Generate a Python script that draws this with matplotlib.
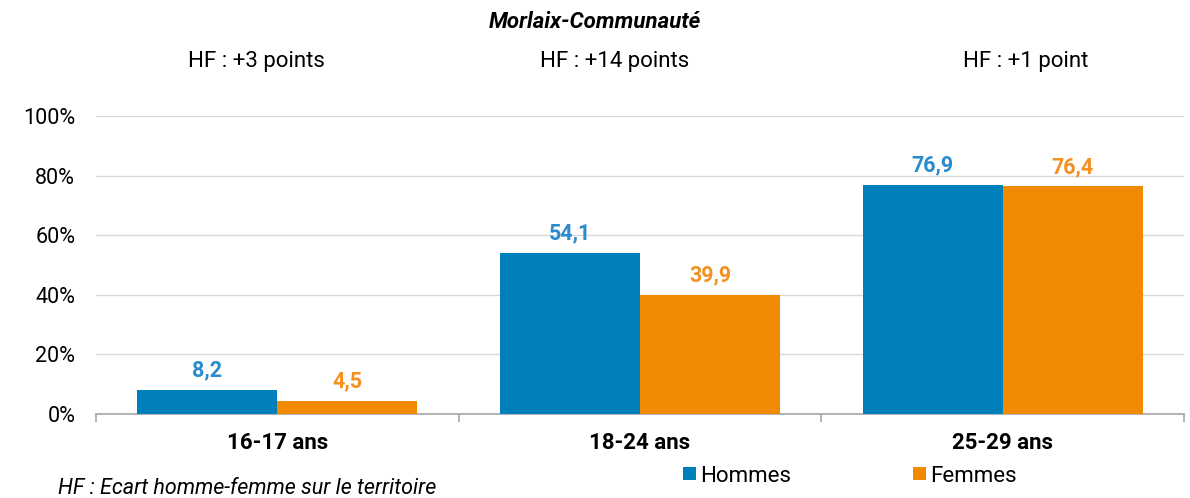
import numpy as np
import matplotlib.pyplot as plt

plt.rcParams['font.family'] = ['Roboto', 'DejaVu Sans']

categories = ['16-17 ans', '18-24 ans', '25-29 ans']
hommes = [8.2, 54.1, 76.9]
femmes = [4.5, 39.9, 76.4]
ecarts = ['HF : +3 points', 'HF : +14 points', 'HF : +1 point']

blue = '#0080BA'
orange = '#F08A00'

fig = plt.figure(figsize=(11.9, 4.98), dpi=100)
ax = fig.add_axes([0.0807, 0.1687, 0.9143, 0.5984])

x = np.arange(len(categories))
w = 0.386
b1 = ax.bar(x - w / 2, hommes, w, color=blue, zorder=3)
b2 = ax.bar(x + w / 2, femmes, w, color=orange, zorder=3)

for xi, v in zip(x, hommes):
    ax.annotate(f'{v:.1f}'.replace('.', ','), (xi - w / 2, v), xytext=(0, 6),
                textcoords='offset points', ha='center', va='bottom',
                color='#2a8ccc', fontsize=15.5, fontweight='bold')
for xi, v in zip(x, femmes):
    ax.annotate(f'{v:.1f}'.replace('.', ','), (xi + w / 2, v), xytext=(0, 6),
                textcoords='offset points', ha='center', va='bottom',
                color='#f39121', fontsize=15.5, fontweight='bold')

ax.set_xlim(-0.5, 2.5)
ax.set_ylim(0, 100)
ax.set_yticks(np.arange(0, 101, 20))
ax.set_yticklabels([f'{t}%' for t in range(0, 101, 20)], fontsize=15.5)
ax.grid(axis='y', color='#d9d9d9', linewidth=1, zorder=0)
ax.tick_params(axis='y', length=0, pad=15)

ax.set_xticks([-0.5, 0.5, 1.5, 2.5])
ax.set_xticklabels([])
ax.tick_params(axis='x', length=6, color='#a6a6a6', width=1.2, direction='out')
ax.set_xticks(x, minor=True)
ax.set_xticklabels(categories, minor=True, fontsize=16, fontweight='bold')
ax.tick_params(axis='x', which='minor', length=0, pad=13)

for s in ['top', 'right', 'left']:
    ax.spines[s].set_visible(False)
ax.spines['bottom'].set_color('#a6a6a6')
ax.spines['bottom'].set_linewidth(1.2)

fig.text(595 / 1190, 1 - 22 / 498, 'Morlaix-Communauté', ha='center', va='center',
         fontsize=16, fontweight='bold', fontstyle='italic')
for xf, t in zip([256, 615, 1026], ecarts):
    fig.text(xf / 1190, 1 - 61 / 498, t, ha='center', va='center', fontsize=16)

fig.text(58 / 1190, 1 - 488 / 498, 'HF : Ecart homme-femme sur le territoire',
         ha='left', va='center', fontsize=15.5, fontstyle='italic')

fig.legend([b1, b2], ['Hommes', 'Femmes'], loc='center', ncol=2,
           bbox_to_anchor=(850 / 1190, 1 - 476 / 498), frameon=False,
           fontsize=16, handlelength=0.55, handleheight=0.55, handletextpad=0.2,
           columnspacing=5.5)

fig.savefig('out.png', dpi=100)
